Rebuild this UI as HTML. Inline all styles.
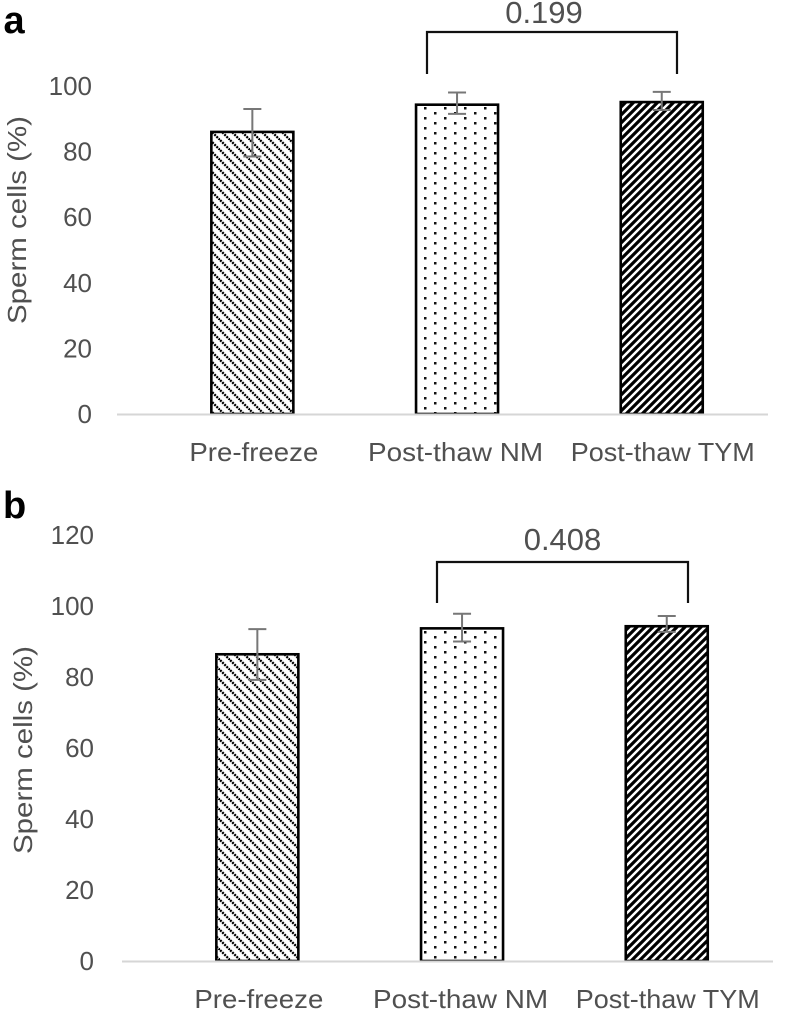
<!DOCTYPE html>
<html>
<head>
<meta charset="utf-8">
<style>
html,body{margin:0;padding:0;background:#fff;width:788px;height:1010px;overflow:hidden}
svg{display:block}
text{font-family:"Liberation Sans",sans-serif;fill:#505050}
</style>
</head>
<body>
<svg id="fig" xmlns="http://www.w3.org/2000/svg" width="788" height="1010" viewBox="0 0 788 1010">
<defs>
<pattern id="pat-down" patternUnits="userSpaceOnUse" width="10" height="10"><path d="M-2,-2 L12,12 M-2,8 L2,12 M8,-2 L12,2" stroke="#000" stroke-width="2.3" fill="none" stroke-dasharray="2 1"/></pattern>
<pattern id="pat-dots-a" patternUnits="userSpaceOnUse" width="20" height="10" patternTransform="translate(0,-4)"><rect x="4" y="1" width="2.5" height="2.5" fill="#111"/><rect x="14" y="6" width="2.5" height="2.5" fill="#111"/></pattern>
<pattern id="pat-dots-b" patternUnits="userSpaceOnUse" width="20" height="10"><rect x="4" y="1" width="2.5" height="2.5" fill="#111"/><rect x="14" y="6" width="2.5" height="2.5" fill="#111"/></pattern>
<pattern id="pat-up" patternUnits="userSpaceOnUse" width="8" height="8"><path d="M-2,10 L10,-2 M-2,2 L2,-2 M6,10 L10,6" stroke="#000" stroke-width="3.2" fill="none"/></pattern>
</defs>
<g id="chart-layer"></g>
</svg>
<script>
const categories = ["Pre-freeze", "Post-thaw NM", "Post-thaw TYM"];

const panelAValues = [86, 94.3, 95.1];
const panelAUpper = [93, 98, 98.2];
const panelALower = [78.5, 91.5, 92.7];
const panelATicks = [0, 20, 40, 60, 80, 100];
const panelAP = "0.199";

const panelBValues = [86.4, 93.7, 94.3];
const panelBUpper = [93.5, 97.8, 97.2];
const panelBLower = [79.2, 90, 92.7];
const panelBTicks = [0, 20, 40, 60, 80, 100, 120];
const panelBP = "0.408";

const NS = "http://www.w3.org/2000/svg";
const layer = document.getElementById("chart-layer");

function mk(parent, tag, attrs, txt) {
  const el = document.createElementNS(NS, tag);
  for (const k in attrs) el.setAttribute(k, attrs[k]);
  if (txt !== undefined) el.textContent = txt;
  parent.appendChild(el);
  return el;
}

function drawPanel(cfg) {
  const g = mk(layer, "g", {});
  
  

  const y = v => cfg.y0 - v * cfg.unit;
  const x = i => cfg.left + (i + 0.5) * 204.7;
  const fills = ["url(#pat-down)", "url(#pat-dots-" + cfg.letter + ")", "url(#pat-up)"];

  const letter = mk(g, "text", {x: cfg.letterX, y: cfg.letterY, "font-size": 38, "font-weight": "bold", style: "fill:#000"}, cfg.letter);
  
  

  const title = mk(g, "text", {x: 0, y: 0, "font-size": 26, "text-anchor": "middle", textLength: 208, lengthAdjust: "spacingAndGlyphs", transform: "translate(" + cfg.titleX + "," + cfg.titleY + ") rotate(-90)"}, "Sperm cells (%)");
  
  

  cfg.ticks.forEach(t => {
    const lab = mk(g, "text", {x: cfg.tickX, y: y(t) + 9, "font-size": 26, "text-anchor": "end"}, String(t));
    
    
  });

  cfg.values.forEach((v, i) => {
    const cx = x(i);
    const bar = mk(g, "rect", {x: cx - 41, y: y(v), width: 82, height: cfg.y0 - y(v), fill: "#fff"});
    
    
    const mark = mk(g, "rect", {x: cx - 41, y: y(v), width: 82, height: cfg.y0 - y(v), fill: fills[i], stroke: "#000", "stroke-width": 2.6});
    
    
  });

  const axis = mk(g, "line", {x1: cfg.axisStart, x2: cfg.axisEnd, y1: cfg.y0 + 0.5, y2: cfg.y0 + 0.5, stroke: "#d6d6d6", "stroke-width": 2});
  
  

  cfg.values.forEach((v, i) => {
    const cx = x(i);
    const err = mk(g, "path", {
      d: "M" + cx + "," + y(cfg.upper[i]) + "V" + y(cfg.lower[i]) +
         "M" + (cx - 9) + "," + y(cfg.upper[i]) + "H" + (cx + 9) +
         "M" + (cx - 9) + "," + y(cfg.lower[i]) + "H" + (cx + 9),
      stroke: "#777", "stroke-width": 2, fill: "none"
    });
    
    
  });

  categories.forEach((c, i) => {
    const lab = mk(g, "text", {x: x(i) + [1.5, -1.5, 1][i], y: cfg.catY, "font-size": 26, "text-anchor": "middle", textLength: [129, 175, 184][i], lengthAdjust: "spacingAndGlyphs"}, c);
    
    
  });

  const bracket = mk(g, "path", {d: "M" + cfg.brLeft + "," + cfg.brBottom + "V" + cfg.brTop + "H" + cfg.brRight + "V" + cfg.brBottom, stroke: "#111", "stroke-width": 2.2, fill: "none"});
  
  

  const p = mk(g, "text", {x: cfg.pX, y: cfg.pY, "font-size": 31, "text-anchor": "middle"}, cfg.p);
  
  
}

drawPanel({letter: "a", letterX: 3.5, letterY: 33, titleX: 26, titleY: 220, tickX: 92, y0: 414, unit: 3.28, left: 150, axisStart: 117, axisEnd: 768, catY: 461, brLeft: 427, brRight: 677, brTop: 32, brBottom: 74, pX: 544, pY: 23,
  ticks: panelATicks, values: panelAValues, upper: panelAUpper, lower: panelALower, p: panelAP});
drawPanel({letter: "b", letterX: 3, letterY: 518, titleX: 32, titleY: 750, tickX: 94, y0: 961, unit: 3.55, left: 155, axisStart: 122, axisEnd: 773, catY: 1008, brLeft: 437, brRight: 688, brTop: 562, brBottom: 603, pX: 562.5, pY: 550,
  ticks: panelBTicks, values: panelBValues, upper: panelBUpper, lower: panelBLower, p: panelBP});
</script>
</body>
</html>
